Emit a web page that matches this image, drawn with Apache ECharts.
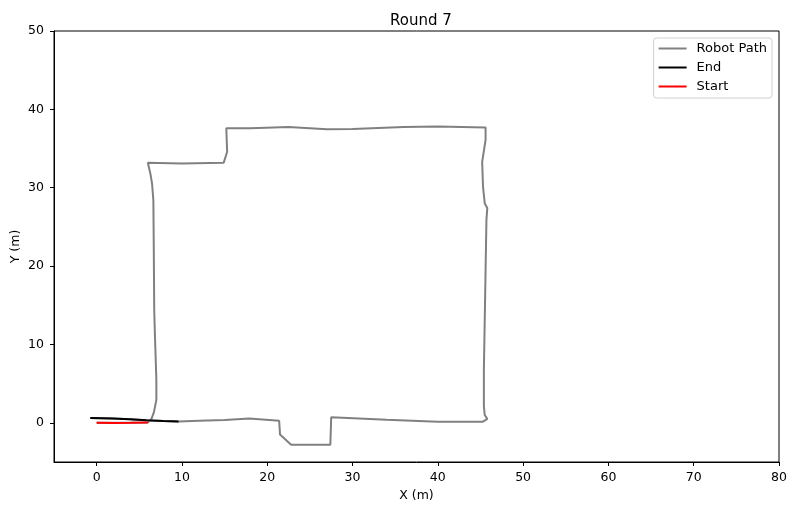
<!DOCTYPE html>
<html>
<head>
<meta charset="utf-8">
<script src="https://cdn.jsdelivr.net/npm/echarts@6/dist/echarts.min.js"></script>
<style>
  html, body { margin: 0; padding: 0; background: #fff; }
  #chart { width: 789px; height: 507px; }
</style>
</head>
<body>
<div id="chart"></div>
<script>
// robot path (whole loop)
const pathX = [0, 2, 4, 6, 6.4, 6.7, 7.0, 7.0, 6.85, 6.75, 6.7, 6.65, 6.5, 6.3, 6.0, 10, 14.9, 15.3, 15.2, 18, 22.5, 27, 30, 36, 40, 45.6, 45.6, 45.2, 45.3, 45.5, 45.8, 45.7, 45.6, 45.5, 45.4, 45.4, 45.5, 45.8, 45.3, 40, 34, 27.5, 27.4, 22.8, 21.5, 21.4, 17.9, 15, 12, 9.6, 7.8, 5.8, 3.9, 1.9, -0.74]
const pathY = [0, 0, 0.02, 0.05, 0.45, 1.3, 2.9, 5.5, 10.6, 14.4, 22, 28.4, 30.5, 31.8, 33.2, 33.1, 33.2, 34.6, 37.6, 37.6, 37.75, 37.45, 37.5, 37.75, 37.8, 37.7, 36.1, 33.3, 30.1, 28, 27.4, 25.9, 19.5, 13.1, 6.8, 2.1, 1.0, 0.5, 0.15, 0.15, 0.4, 0.7, -2.8, -2.8, -1.5, 0.25, 0.55, 0.35, 0.25, 0.17, 0.22, 0.34, 0.47, 0.55, 0.6]

// last segment
const endX = [9.6, 7.8, 5.8, 3.9, 1.9, -0.74]
const endY = [0.17, 0.22, 0.34, 0.47, 0.55, 0.6]

// first segment
const startX = [0, 2, 4, 6]
const startY = [0, -0.03, 0, 0.05]

const xTicks = [0, 10, 20, 30, 40, 50, 60, 70, 80]
const yTicks = [0, 10, 20, 30, 40, 50]

const zip = (xs, ys) => xs.map((x, i) => [x, ys[i]])

const font = 'DejaVu Sans'
const chart = echarts.init(document.getElementById('chart'))

const axisCommon = {
  type: 'value',
  splitLine: { show: false },
  axisLine: { show: true, onZero: false, lineStyle: { color: '#000', width: 1 } },
  axisTick: { show: true, length: 4, lineStyle: { color: '#000' } },
  nameLocation: 'middle',
  nameMoveOverlap: false,
  nameTextStyle: { color: '#000', fontFamily: font, fontSize: 12.5 }
}

chart.setOption({
  animation: false,
  title: {
    text: 'Round 7',
    left: 416,
    textAlign: 'center',
    top: 9,
    textStyle: { color: '#000', fontFamily: font, fontSize: 15, fontWeight: 'normal' }
  },
  legend: {
    orient: 'vertical',
    right: 17,
    top: 38,
    itemWidth: 28,
    itemHeight: 2,
    itemGap: 6,
    icon: 'rect',
    padding: [4, 5, 5, 5],
    borderColor: '#d0d0d0',
    borderWidth: 1,
    borderRadius: 3,
    textStyle: { color: '#000', fontFamily: font, fontSize: 13, padding: [0, 0, 0, 5] },
    data: ['Robot Path', 'End', 'Start']
  },
  grid: {
    left: 54,
    right: 10,
    top: 31,
    bottom: 45,
    containLabel: false,
    outerBoundsMode: 'none',
    show: true,
    borderColor: '#000',
    borderWidth: 1
  },
  xAxis: {
    ...axisCommon,
    min: -5,
    max: 80,
    name: 'X (m)',
    nameGap: 27,
    axisTick: { ...axisCommon.axisTick, customValues: xTicks },
    axisLabel: { customValues: xTicks, color: '#000', fontFamily: font, fontSize: 12.5, margin: 9 }
  },
  yAxis: {
    ...axisCommon,
    min: -5,
    max: 50,
    name: 'Y (m)',
    nameGap: 32,
    axisTick: { ...axisCommon.axisTick, customValues: yTicks },
    axisLabel: { customValues: yTicks, color: '#000', fontFamily: font, fontSize: 12.5, margin: 10 }
  },
  series: [
    {
      name: 'Robot Path',
      type: 'line',
      data: zip(pathX, pathY),
      showSymbol: false,
      itemStyle: { color: '#808080' },
      lineStyle: { color: '#808080', width: 2 }
    },
    {
      name: 'End',
      type: 'line',
      data: zip(endX, endY),
      showSymbol: false,
      itemStyle: { color: '#000' },
      lineStyle: { color: '#000', width: 2 }
    },
    {
      name: 'Start',
      type: 'line',
      data: zip(startX, startY),
      showSymbol: false,
      itemStyle: { color: '#ff0000' },
      lineStyle: { color: '#ff0000', width: 2 }
    }
  ]
})
</script>
</body>
</html>
